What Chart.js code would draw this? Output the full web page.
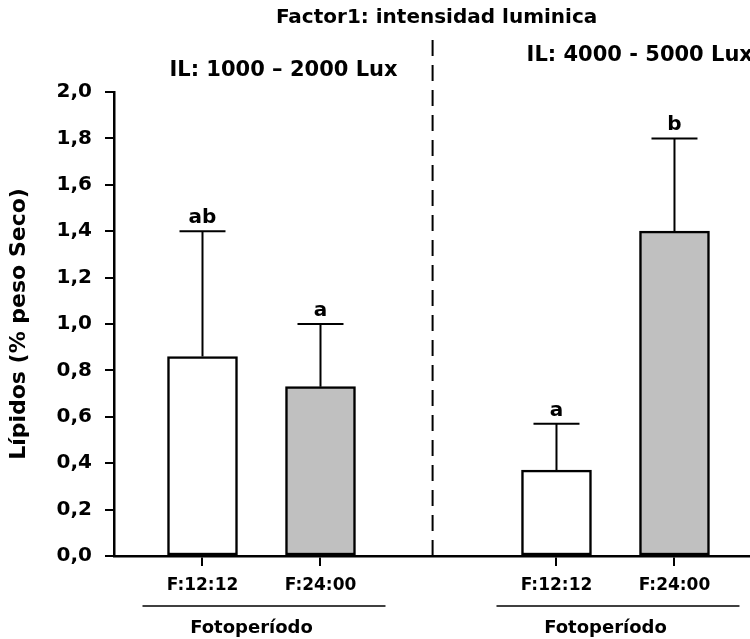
<!DOCTYPE html>
<html>
<head>
<meta charset="utf-8">
<script src="https://cdn.jsdelivr.net/npm/chart.js@4/dist/chart.umd.min.js"></script>
<style>
  body { margin: 0; background: #fff; }
  #wrap { width: 750px; height: 639px; }
</style>
</head>
<body>
<div id="wrap"><canvas id="chart" width="750" height="639"></canvas></div>
<script>
// datos
var titulo = 'Factor1: intensidad luminica';
var grupos = ['IL: 1000 – 2000 Lux', 'IL: 4000 - 5000 Lux'];
var fotoperiodos = ['F:12:12', 'F:24:00', 'F:12:12', 'F:24:00'];
var posiciones = [1, 2, 4, 5];
var lipidos = [0.86, 0.73, 0.37, 1.40];
var errores = [0.54, 0.27, 0.20, 0.40];
var letras = ['ab', 'a', 'a', 'b'];
var colores = ['#ffffff', '#c0c0c0', '#ffffff', '#c0c0c0'];
var yTicks = [0, 0.2, 0.4, 0.6, 0.8, 1.0, 1.2, 1.4, 1.6, 1.8, 2.0];

var fuente = 'DejaVu Sans, Liberation Sans, Arial, sans-serif';

var extras = {
    id: 'extras',
    afterDatasetsDraw: function(chart) {
        var ctx = chart.ctx;
        var xs = chart.scales.x;
        var ys = chart.scales.y;
        var area = chart.chartArea;
        ctx.save();
        ctx.strokeStyle = '#000';
        ctx.fillStyle = '#000';
        ctx.lineWidth = 2;

        // barras de error y letras
        for (var i = 0; i < lipidos.length; i++) {
            var x = xs.getPixelForValue(posiciones[i]);
            var yBar = ys.getPixelForValue(lipidos[i]);
            var yTop = ys.getPixelForValue(lipidos[i] + errores[i]);
            ctx.beginPath();
            ctx.moveTo(x, yBar);
            ctx.lineTo(x, yTop);
            ctx.moveTo(x - 23, yTop);
            ctx.lineTo(x + 23, yTop);
            ctx.stroke();
            ctx.font = 'bold 20px ' + fuente;
            ctx.textAlign = 'center';
            ctx.textBaseline = 'alphabetic';
            ctx.fillText(letras[i], x, yTop - 8);
        }

        // linea divisoria
        var xDiv = xs.getPixelForValue(2.95);
        ctx.setLineDash([16, 9]);
        ctx.beginPath();
        ctx.moveTo(xDiv, 40);
        ctx.lineTo(xDiv, area.bottom);
        ctx.stroke();
        ctx.setLineDash([]);

        // titulos
        ctx.textBaseline = 'middle';
        ctx.font = 'bold 20px ' + fuente;
        ctx.fillText(titulo, xDiv + 4, 18);
        ctx.font = 'bold 21px ' + fuente;
        ctx.fillText(grupos[0], (xs.getPixelForValue(1) + xs.getPixelForValue(2)) / 2 + 22, 71);
        ctx.textAlign = 'left';
        ctx.fillText(grupos[1], xDiv + 94, 56);

        // fotoperiodo
        ctx.textAlign = 'center';
        for (var g = 0; g < 2; g++) {
            var mid = (xs.getPixelForValue(posiciones[g * 2]) + xs.getPixelForValue(posiciones[g * 2 + 1])) / 2;
            ctx.lineWidth = 1.5;
            ctx.beginPath();
            ctx.moveTo(mid - 119, 606);
            ctx.lineTo(mid + 124, 606);
            ctx.stroke();
            ctx.font = 'bold 18px ' + fuente;
            ctx.fillText('Fotoperíodo', mid - 10, 628);
        }
        ctx.restore();
    }
};

var ctx = document.getElementById('chart').getContext('2d');
var chart = new Chart(ctx, {
    type: 'bar',
    data: {
        datasets: [{
            data: posiciones.map(function(p, i) { return { x: p, y: lipidos[i] }; }),
            backgroundColor: colores,
            borderColor: '#000',
            borderWidth: 2.5,
            borderSkipped: false,
            barThickness: 70
        }]
    },
    options: {
        responsive: false,
        animation: false,
        layout: { padding: { top: 92, right: 0, left: 0, bottom: 0 } },
        plugins: {
            legend: { display: false },
            tooltip: { enabled: false }
        },
        scales: {
            x: {
                type: 'linear',
                min: 0.25,
                max: 5.64,
                offset: false,
                afterBuildTicks: function(scale) {
                    scale.ticks = posiciones.map(function(p) { return { value: p }; });
                },
                afterFit: function(scale) { scale.height = 83; },
                grid: { offset: false, drawOnChartArea: false, drawTicks: true, tickLength: 10, tickColor: '#000', lineWidth: 2 },
                border: { display: true, color: '#000', width: 2.5 },
                ticks: {
                    autoSkip: false,
                    maxRotation: 0,
                    padding: 9,
                    color: '#000',
                    font: { family: fuente, size: 17, weight: 'bold' },
                    callback: function(v, idx) { return fotoperiodos[idx]; }
                }
            },
            y: {
                min: 0,
                max: 2.0,
                afterBuildTicks: function(scale) {
                    scale.ticks = yTicks.map(function(v) { return { value: v }; });
                },
                afterFit: function(scale) { scale.width = 114; },
                grid: { drawOnChartArea: false, drawTicks: true, tickLength: 9, tickColor: '#000', lineWidth: 2 },
                border: { display: true, color: '#000', width: 2.5 },
                ticks: {
                    padding: 13,
                    color: '#000',
                    font: { family: fuente, size: 20, weight: 'bold' },
                    callback: function(v) { return v.toFixed(1).replace('.', ','); }
                },
                title: {
                    display: true,
                    text: 'Lípidos (% peso Seco)',
                    color: '#000',
                    font: { family: fuente, size: 22, weight: 'bold' },
                    padding: { top: 6, bottom: 0 }
                }
            }
        }
    },
    plugins: [extras]
});
</script>
</body>
</html>
